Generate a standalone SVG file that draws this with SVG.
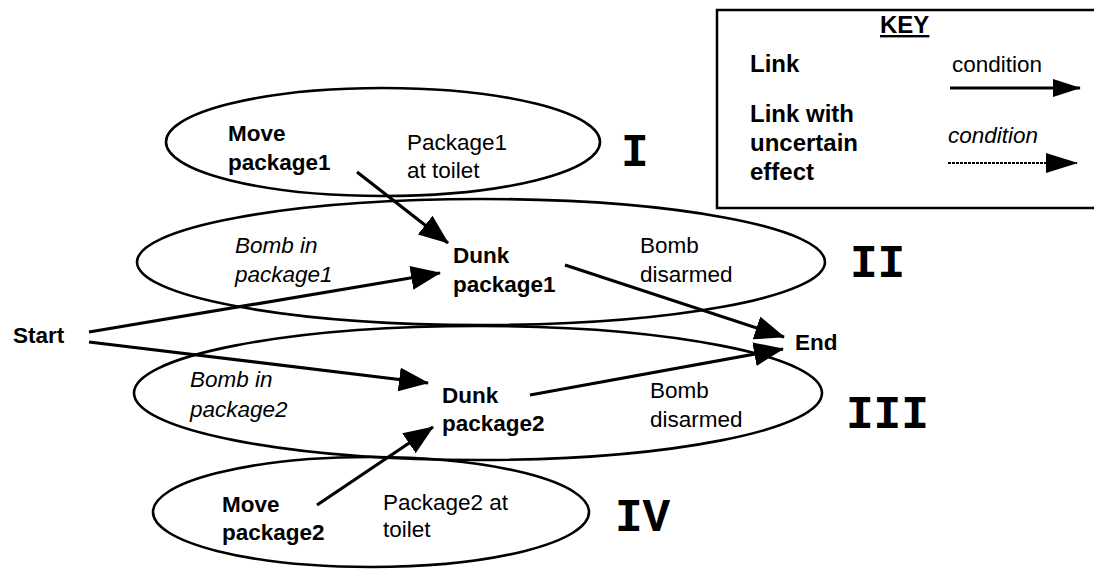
<svg xmlns="http://www.w3.org/2000/svg" width="1094" height="569" viewBox="0 0 1094 569">
<defs>
<style>
.ell{fill:none;stroke:#000;stroke-width:2.6}
.b{font-family:"Liberation Sans",Arial,sans-serif;font-weight:bold;font-size:22.5px;fill:#000}
.r{font-family:"Liberation Sans",Arial,sans-serif;font-size:22.5px;fill:#000}
.i{font-family:"Liberation Sans",Arial,sans-serif;font-style:italic;font-size:22.5px;fill:#000}
.kb{font-family:"Liberation Sans",Arial,sans-serif;font-weight:bold;font-size:24px;fill:#000}
.num{font-family:"Liberation Mono","Courier New",monospace;font-weight:bold;font-size:46px;fill:#000}
.conn{stroke:#000;stroke-width:3.2;fill:none;marker-end:url(#ah)}
</style>
<marker id="ah" markerUnits="userSpaceOnUse" markerWidth="32" markerHeight="26" refX="29" refY="12" orient="auto"><path d="M0,0 L30,12 L0,24 z" fill="#000"/></marker>
<marker id="ahk" markerUnits="userSpaceOnUse" markerWidth="30" markerHeight="20" refX="27" refY="9" orient="auto"><path d="M0,0 L28,9 L0,18 z" fill="#000"/></marker>
<marker id="ahk2" markerUnits="userSpaceOnUse" markerWidth="34" markerHeight="24" refX="31" refY="10" orient="auto"><path d="M0,0 L32,10 L0,20 z" fill="#000"/></marker>
</defs>
<rect width="1094" height="569" fill="#fff"/>

<g id="ellipse-I">
<ellipse class="ell" cx="383" cy="142" rx="217" ry="54"/>
<text class="b" x="228" y="141">Move</text>
<text class="b" x="228" y="170">package1</text>
<text class="r" x="407" y="150">Package1</text>
<text class="r" x="407" y="178">at toilet</text>
<text class="num" x="621" y="166">I</text>
</g>

<g id="ellipse-II">
<ellipse class="ell" cx="481" cy="262" rx="344" ry="63"/>
<text class="i" x="235" y="253">Bomb in</text>
<text class="i" x="235" y="282">package1</text>
<text class="b" x="453" y="263">Dunk</text>
<text class="b" x="453" y="292">package1</text>
<text class="r" x="640" y="253">Bomb</text>
<text class="r" x="640" y="282">disarmed</text>
<text class="num" x="850" y="277">II</text>
</g>

<g id="ellipse-III">
<ellipse class="ell" cx="478" cy="393" rx="344" ry="67"/>
<text class="i" x="190" y="387">Bomb in</text>
<text class="i" x="190" y="417">package2</text>
<text class="b" x="442" y="403">Dunk</text>
<text class="b" x="442" y="431">package2</text>
<text class="r" x="650" y="398">Bomb</text>
<text class="r" x="650" y="427">disarmed</text>
<text class="num" x="846" y="428">III</text>
</g>

<g id="ellipse-IV">
<ellipse class="ell" cx="371" cy="512" rx="218" ry="55"/>
<text class="b" x="222" y="512">Move</text>
<text class="b" x="222" y="540">package2</text>
<text class="r" x="383" y="510">Package2 at</text>
<text class="r" x="383" y="537">toilet</text>
<text class="num" x="615" y="531">IV</text>
</g>

<g id="start"><text class="b" x="13" y="343">Start</text></g>
<g id="end"><text class="b" x="795" y="350">End</text></g>

<g id="connectors">
<line class="conn" x1="357" y1="172" x2="448" y2="243"/>
<line class="conn" x1="89" y1="332" x2="440" y2="273"/>
<line class="conn" x1="89" y1="342" x2="428" y2="383"/>
<line class="conn" x1="565" y1="265" x2="784" y2="337"/>
<line class="conn" x1="530" y1="395" x2="783" y2="349"/>
<line class="conn" x1="317" y1="505" x2="433" y2="427"/>
</g>

<g id="key">
<polyline points="1094,10 717,10 717,208 1094,208" fill="none" stroke="#000" stroke-width="2.5"/>
<text class="kb" x="880" y="33" text-decoration="underline">KEY</text>
<text class="kb" x="750" y="72">Link</text>
<text class="r" x="952" y="72">condition</text>
<line x1="950" y1="88" x2="1080" y2="88" stroke="#000" stroke-width="3" marker-end="url(#ahk)"/>
<text class="kb" x="750" y="122">Link with</text>
<text class="kb" x="750" y="151">uncertain</text>
<text class="kb" x="750" y="180">effect</text>
<text class="i" x="948" y="143">condition</text>
<line x1="948" y1="163" x2="1077" y2="163" stroke="#000" stroke-width="1.8" stroke-dasharray="3 1" marker-end="url(#ahk2)"/>
</g>
</svg>
